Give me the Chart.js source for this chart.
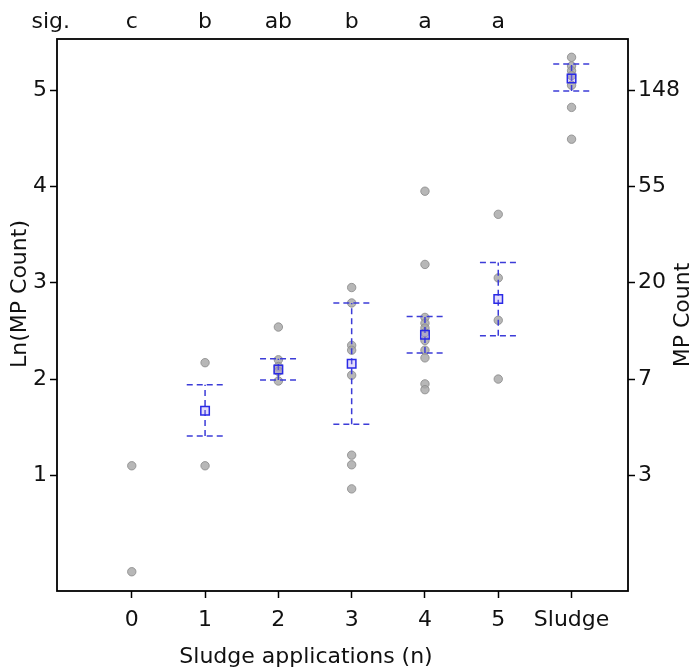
<!DOCTYPE html>
<html>
<head>
<meta charset="utf-8">
<script src="https://cdn.jsdelivr.net/npm/chart.js@4"></script>
<style>
  html, body { margin: 0; padding: 0; background: #fff; }
  #wrap { width: 694px; height: 671px; }
</style>
</head>
<body>
<div id="wrap"><canvas id="mpChart" width="694" height="671"></canvas></div>
<script>
// Categories and significance letters
const categories = ['0', '1', '2', '3', '4', '5', 'Sludge'];
const sigLetters = ['c', 'b', 'ab', 'b', 'a', 'a', ''];

// Ln(MP count) of every sample, per category
const rawValues = [
    [1.10, 0.00],
    [2.17, 1.10],
    [2.54, 2.20, 2.13, 2.08, 1.98],
    [2.95, 2.79, 2.35, 2.30, 2.04, 1.21, 1.11, 0.86],
    [3.95, 3.19, 2.64, 2.58, 2.53, 2.48, 2.40, 2.30, 2.22, 1.95, 1.89],
    [3.71, 3.05, 2.61, 2.00],
    [5.34, 5.25, 5.20, 5.15, 5.05, 4.82, 4.49]
];

// Mean and error bar ends (null = not drawn)
const meanValues = [null, 1.67, 2.10, 2.16, 2.46, 2.83, 5.12];
const errLow = [null, 1.41, 1.99, 1.53, 2.27, 2.45, 4.99];
const errHigh = [null, 1.94, 2.21, 2.79, 2.65, 3.21, 5.27];

// Axis ticks
const leftTicks = [1, 2, 3, 4, 5];
const rightTicks = [1, 2, 3, 4, 5];
const rightTickLabels = ['3', '7', '20', '55', '148'];

const FONT = "'DejaVu Sans', Verdana, sans-serif";
const barColor = '#3c3cd8';
const capHalf = 0.25;

// Build datasets from the arrays
const samplePoints = [];
rawValues.forEach((vals, i) => {
    vals.forEach(v => samplePoints.push({ x: i, y: v }));
});

const meanPoints = [];
const stemPoints = [];
const capPoints = [];
meanValues.forEach((m, i) => {
    if (m === null) return;
    meanPoints.push({ x: i, y: m });
    stemPoints.push({ x: i, y: errLow[i] }, { x: i, y: errHigh[i] }, { x: i, y: null });
    capPoints.push({ x: i - capHalf, y: errHigh[i] }, { x: i + capHalf, y: errHigh[i] }, { x: i, y: null });
    capPoints.push({ x: i - capHalf, y: errLow[i] }, { x: i + capHalf, y: errLow[i] }, { x: i, y: null });
});

// Box round the plot, sig. row and the axis titles
const extrasPlugin = {
    id: 'extras',
    afterDraw(chart) {
        const ctx = chart.ctx;
        const area = chart.chartArea;
        const xs = chart.scales.x;
        ctx.save();
        ctx.strokeStyle = '#000';
        ctx.lineWidth = 1.8;
        ctx.strokeRect(area.left, area.top, area.right - area.left, area.bottom - area.top);

        ctx.fillStyle = '#111';
        ctx.font = '22px ' + FONT;
        ctx.textAlign = 'center';
        ctx.textBaseline = 'middle';
        sigLetters.forEach((s, i) => {
            if (s) ctx.fillText(s, xs.getPixelForValue(i), 22);
        });
        ctx.textAlign = 'right';
        ctx.fillText('sig.', 70, 22);

        ctx.textAlign = 'center';
        ctx.fillText('Sludge applications (n)', 306, 657);

        ctx.save();
        ctx.translate(20, 294);
        ctx.rotate(-Math.PI / 2);
        ctx.fillText('Ln(MP Count)', 0, 0);
        ctx.restore();

        ctx.translate(683, 315);
        ctx.rotate(-Math.PI / 2);
        ctx.fillText('MP Count', 0, 0);
        ctx.restore();
    }
};

const tickFont = { family: FONT, size: 22 };

new Chart(document.getElementById('mpChart'), {
    type: 'scatter',
    data: {
        datasets: [
            {
                label: 'mean',
                data: meanPoints,
                order: 1,
                pointStyle: 'rect',
                pointRadius: 6,
                borderColor: '#2a2ae6',
                borderWidth: 1.5,
                backgroundColor: 'rgba(160,140,240,0.3)'
            },
            {
                label: 'stem',
                data: stemPoints,
                order: 2,
                showLine: true,
                spanGaps: false,
                pointRadius: 0,
                borderColor: barColor,
                borderWidth: 1.5,
                borderDash: [6, 4]
            },
            {
                label: 'caps',
                data: capPoints,
                order: 2,
                showLine: true,
                spanGaps: false,
                pointRadius: 0,
                borderColor: barColor,
                borderWidth: 1.5,
                borderDash: [6, 4]
            },
            {
                label: 'samples',
                data: samplePoints,
                order: 3,
                pointRadius: 4.2,
                pointStyle: 'circle',
                backgroundColor: 'rgba(165,165,165,0.8)',
                borderColor: 'rgba(140,140,140,0.85)',
                borderWidth: 1
            }
        ]
    },
    options: {
        responsive: false,
        animation: false,
        layout: { padding: { top: 39, left: 0, right: 0, bottom: 0 } },
        plugins: {
            legend: { display: false },
            tooltip: { enabled: false }
        },
        scales: {
            x: {
                type: 'linear',
                min: -1.02,
                max: 6.77,
                afterBuildTicks: s => { s.ticks = categories.map((c, i) => ({ value: i })); },
                afterFit: s => { s.height = 80; },
                ticks: {
                    color: '#111',
                    font: tickFont,
                    padding: 9,
                    maxRotation: 0,
                    callback: v => categories[v]
                },
                grid: { drawOnChartArea: false, drawTicks: true, tickLength: 7, tickColor: '#000', tickWidth: 1.5 },
                border: { display: false }
            },
            y: {
                position: 'left',
                min: -0.2,
                max: 5.53,
                afterBuildTicks: s => { s.ticks = leftTicks.map(v => ({ value: v })); },
                afterFit: s => { s.width = 57; },
                ticks: { color: '#111', font: tickFont, padding: 3 },
                grid: { drawOnChartArea: false, drawTicks: true, tickLength: 7, tickColor: '#000', tickWidth: 1.5 },
                border: { display: false }
            },
            y2: {
                position: 'right',
                min: -0.2,
                max: 5.53,
                afterBuildTicks: s => { s.ticks = rightTicks.map(v => ({ value: v })); },
                afterFit: s => { s.width = 66; },
                ticks: {
                    color: '#111',
                    font: tickFont,
                    padding: 3,
                    callback: v => rightTickLabels[rightTicks.indexOf(v)]
                },
                grid: { drawOnChartArea: false, drawTicks: true, tickLength: 7, tickColor: '#000', tickWidth: 1.5 },
                border: { display: false }
            }
        }
    },
    plugins: [extrasPlugin]
});
</script>
</body>
</html>
